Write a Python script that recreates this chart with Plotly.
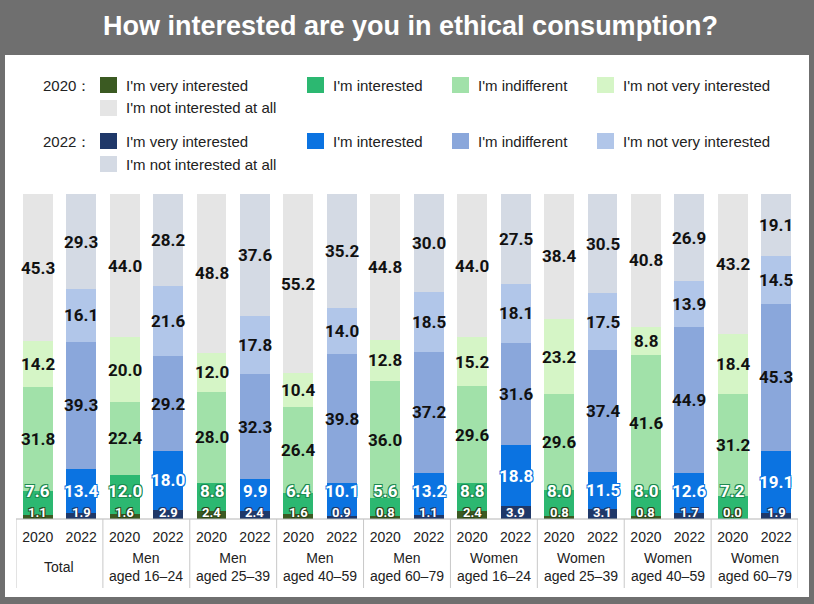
import plotly.graph_objects as go

# 回答カテゴリ（下から順に積み上げ）
levels = ["I'm very interested", "I'm interested", "I'm indifferent",
          "I'm not very interested", "I'm not interested at all"]

groups = ["Total", "Men<br>aged 16–24", "Men<br>aged 25–39", "Men<br>aged 40–59",
          "Men<br>aged 60–79", "Women<br>aged 16–24", "Women<br>aged 25–39",
          "Women<br>aged 40–59", "Women<br>aged 60–79"]
years = ["2020", "2022"]

# 2020年の値（%）
very_2020 = [1.1, 1.6, 2.4, 1.6, 0.8, 2.4, 0.8, 0.8, 0.0]
interested_2020 = [7.6, 12.0, 8.8, 6.4, 5.6, 8.8, 8.0, 8.0, 7.2]
indifferent_2020 = [31.8, 22.4, 28.0, 26.4, 36.0, 29.6, 29.6, 41.6, 31.2]
notvery_2020 = [14.2, 20.0, 12.0, 10.4, 12.8, 15.2, 23.2, 8.8, 18.4]
notatall_2020 = [45.3, 44.0, 48.8, 55.2, 44.8, 44.0, 38.4, 40.8, 43.2]

# 2022年の値（%）
very_2022 = [1.9, 2.9, 2.4, 0.9, 1.1, 3.9, 3.1, 1.7, 1.9]
interested_2022 = [13.4, 18.0, 9.9, 10.1, 13.2, 18.8, 11.5, 12.6, 19.1]
indifferent_2022 = [39.3, 29.2, 32.3, 39.8, 37.2, 31.6, 37.4, 44.9, 45.3]
notvery_2022 = [16.1, 21.6, 17.8, 14.0, 18.5, 18.1, 17.5, 13.9, 14.5]
notatall_2022 = [29.3, 28.2, 37.6, 35.2, 30.0, 27.5, 30.5, 26.9, 19.1]

series = {
    "2020": [very_2020, interested_2020, indifferent_2020, notvery_2020, notatall_2020],
    "2022": [very_2022, interested_2022, indifferent_2022, notvery_2022, notatall_2022],
}
colors = {
    "2020": ["#3b5a22", "#2cb871", "#a1e1a9", "#d5f5c6", "#e5e5e5"],
    "2022": ["#1f3869", "#0b73e1", "#8aa7db", "#b1c6e9", "#d4dae4"],
}
outline = {"2020": ["#2b4418", "#1b8a50"], "2022": ["#1f3869", "#0b73e1"]}

# ピクセル→paper座標の変換（プロット領域 x:16-798, y:194-519）
def px(x):
    return (x - 16) / 782

def py(y):
    return (519 - y) / 325

def ring(c):
    return f"1px 1px 0 {c}, -1px -1px 0 {c}, 1px -1px 0 {c}, -1px 1px 0 {c}"

label_font = "Roboto, Arial, sans-serif"
text_font = "Arial, Liberation Sans, sans-serif"

fig = go.Figure()
annotations = []

for yi, yr in enumerate(years):
    xs = [2 * g + yi for g in range(len(groups))]
    for li, lev in enumerate(levels):
        fig.add_trace(go.Bar(
            x=xs, y=series[yr][li], name=f"{yr} {lev}",
            marker=dict(color=colors[yr][li], line=dict(width=0)),
            width=0.69, showlegend=False, hoverinfo="skip",
        ))
    # 棒ラベル
    for g in range(len(groups)):
        base = 0
        for li in range(len(levels)):
            v = series[yr][li][g]
            center = base + v / 2
            base += v
            if li == 0:
                y, size, fcol, shadow = 1.9, 13, "white", ring(outline[yr][0])
            elif li == 1:
                y, size, fcol, shadow = max(center, 8.5), 17, "white", ring(outline[yr][1])
            else:
                y, size, fcol, shadow = center, 17, "#111111", "none"
            annotations.append(dict(
                x=2 * g + yi, y=y, xref="x", yref="y", text=f"{v:.1f}",
                showarrow=False, yanchor="middle",
                font=dict(family=label_font, size=size, color=fcol, weight="bold", shadow=shadow),
            ))

# グループ名
for g, name in enumerate(groups):
    annotations.append(dict(
        x=2 * g + 0.5, y=py(567), xref="x", yref="paper", text=name,
        showarrow=False, yanchor="middle",
        font=dict(family=text_font, size=14, color="#222222"),
    ))

# タイトル
annotations.append(dict(
    x=px(410), y=py(26), xref="paper", yref="paper",
    text="How interested are you in ethical consumption?", showarrow=False,
    yanchor="middle",
    font=dict(family=text_font, size=27, color="white", weight="bold"),
))

shapes = [
    # 白いパネル
    dict(type="rect", xref="paper", yref="paper", x0=px(5), x1=px(809), y0=py(597), y1=py(55),
         fillcolor="white", line=dict(width=0), layer="below"),
    # 基線
    dict(type="line", xref="x", yref="paper", x0=-0.5, x1=17.5, y0=0, y1=0,
         line=dict(color="#b5b5b5", width=1)),
]
# 区切り線
for g in range(len(groups) + 1):
    shapes.append(dict(type="line", xref="x", yref="paper", x0=2 * g - 0.5, x1=2 * g - 0.5,
                       y0=0, y1=py(588), line=dict(color="#c8c8c8", width=1)))

# 凡例（手作り）
legend_rows = {"2020": (85, 108), "2022": (141, 164)}
col_x = [100, 307, 452, 597, 100]
for yr in years:
    r1, r2 = legend_rows[yr]
    annotations.append(dict(
        x=px(93), y=py(r1), xref="paper", yref="paper", text=f"{yr}：",
        showarrow=False, xanchor="right", yanchor="middle",
        font=dict(family=text_font, size=15, color="#222222"),
    ))
    for li, lev in enumerate(levels):
        cy = r1 if li < 4 else r2
        sx = col_x[li]
        shapes.append(dict(type="rect", xref="paper", yref="paper",
                           x0=px(sx), x1=px(sx + 17), y0=py(cy + 8), y1=py(cy - 8),
                           fillcolor=colors[yr][li], line=dict(width=0)))
        annotations.append(dict(
            x=px(sx + 24), y=py(cy), xref="paper", yref="paper", text=lev,
            showarrow=False, xanchor="left", yanchor="middle",
            font=dict(family=text_font, size=15, color="#222222"),
        ))

fig.update_layout(
    width=814, height=604,
    margin=dict(l=16, r=16, t=194, b=85),
    paper_bgcolor="#6f6f6f", plot_bgcolor="rgba(0,0,0,0)",
    barmode="stack", bargap=0,
    xaxis=dict(range=[-0.5, 17.5], tickvals=list(range(18)),
               ticktext=[years[i % 2] for i in range(18)],
               tickfont=dict(family=text_font, size=14, color="#222222"),
               ticklabelstandoff=8,
               showgrid=False, zeroline=False, showline=False, ticks="", fixedrange=True),
    yaxis=dict(range=[0, 100], visible=False, fixedrange=True),
    annotations=annotations, shapes=shapes,
)

fig.write_html("out.html", config={"displayModeBar": False},
               post_script="document.body.style.margin='0';document.body.style.overflow='hidden';")
